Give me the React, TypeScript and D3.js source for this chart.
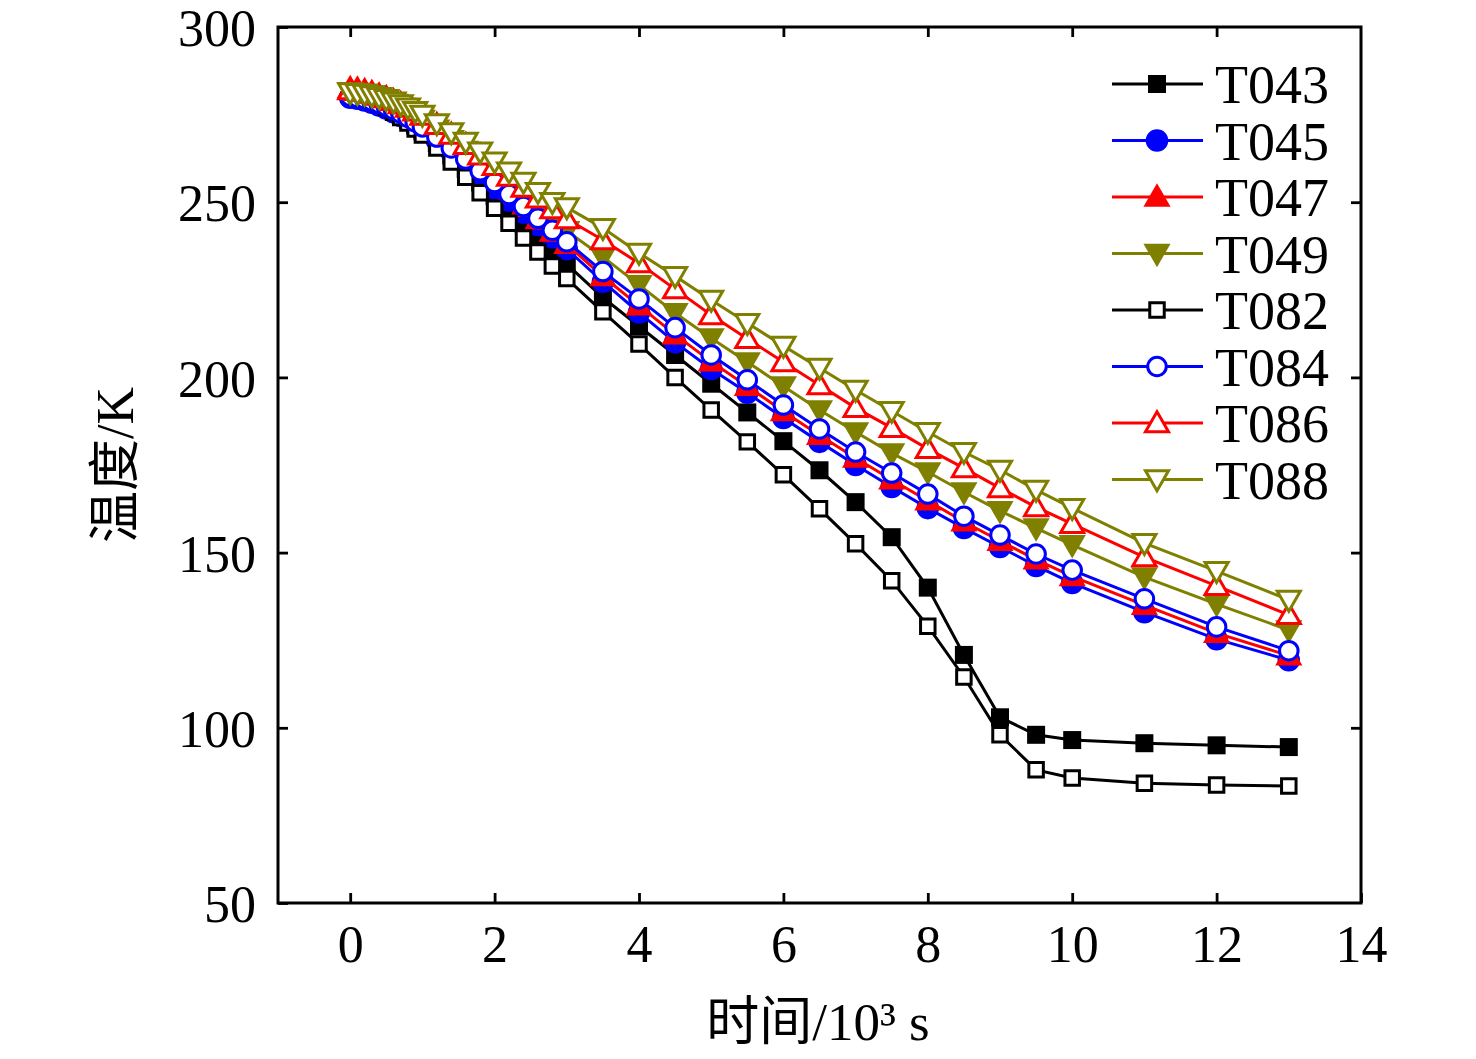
import { useEffect, useRef } from "react";
import * as d3 from "d3";

// time in 10^3 s
const times = [
	0, 0.1, 0.2, 0.3, 0.4, 0.5, 0.6, 0.7, 0.8, 0.9, 1.0, 1.2, 1.4, 1.6, 1.8, 2.0, 2.2, 2.4, 2.6, 2.8,
	3.0, 3.5, 4, 4.5, 5, 5.5, 6, 6.5, 7, 7.5, 8, 8.5, 9, 9.5, 10, 11, 12, 13,
];

const t043 = [
	281.2, 280.8, 280.3, 279.6, 278.7, 277.6, 276.4, 275.0, 273.5, 271.9, 270.3, 266.9, 263.3, 259.5,
	255.6, 251.7, 247.8, 243.9, 240.0, 236.1, 232.3, 222.8, 214.6, 206.4, 198.2, 190.0, 181.8, 173.5,
	164.4, 154.4, 140.0, 120.8, 103.0, 98.0, 96.5, 95.6, 95.0, 94.5,
];
const t045 = [
	279.8, 279.5, 279.0, 278.4, 277.6, 276.7, 275.7, 274.6, 273.4, 272.0, 270.6, 267.6, 264.4, 261.0,
	257.5, 254.0, 250.5, 247.0, 243.5, 240.0, 236.6, 227.3, 218.5, 210.0, 202.4, 195.6, 188.4, 181.6,
	175.0, 168.7, 162.7, 157.0, 151.6, 146.2, 141.3, 133.0, 125.3, 119.3,
];
const t047 = [
	282.5, 282.3, 281.9, 281.3, 280.5, 279.6, 278.5, 277.3, 276.0, 274.6, 273.1, 269.9, 266.5, 263.0,
	259.4, 255.8, 252.2, 248.6, 245.0, 241.5, 238.0, 228.8, 220.5, 212.2, 204.5, 197.5, 190.3, 183.5,
	177.0, 170.8, 164.8, 158.8, 153.3, 148.0, 143.2, 135.0, 127.0, 120.6,
];
const t049 = [
	281.5, 281.3, 281.0, 280.5, 279.9, 279.1, 278.2, 277.2, 276.1, 274.9, 273.6, 270.8, 267.8, 264.7,
	261.5, 258.3, 255.0, 251.7, 248.4, 245.1, 241.8, 234.4, 226.4, 218.4, 211.2, 204.4, 197.5, 190.7,
	184.4, 178.4, 173.0, 167.3, 161.9, 157.0, 152.2, 143.0, 135.3, 127.9,
];
const t082 = [
	281.0, 280.6, 280.0, 279.2, 278.2, 277.0, 275.7, 274.2, 272.6, 270.9, 269.2, 265.5, 261.5, 257.1,
	252.7, 248.3, 244.0, 239.8, 235.8, 231.8, 228.2, 218.7, 209.5, 200.0, 190.7, 181.6, 172.2, 162.5,
	152.5, 142.0, 129.0, 114.5, 98.0, 88.0, 85.7, 84.2, 83.7, 83.4,
];
const t084 = [
	280.2, 279.9, 279.5, 278.9, 278.2, 277.4, 276.4, 275.4, 274.2, 272.9, 271.5, 268.6, 265.5, 262.3,
	259.0, 255.6, 252.2, 248.8, 245.4, 242.0, 238.7, 230.2, 222.4, 214.2, 206.4, 199.3, 192.1, 185.3,
	178.7, 172.7, 166.7, 160.4, 155.0, 149.6, 145.0, 136.8, 128.8, 122.0,
];
const t086 = [
	282.0, 281.8, 281.5, 281.0, 280.4, 279.7, 278.9, 278.0, 277.0, 275.9, 274.7, 272.1, 269.3, 266.4,
	263.4, 260.4, 257.3, 254.2, 251.1, 248.0, 245.2, 239.2, 232.6, 225.2, 217.8, 211.0, 204.4, 197.8,
	191.3, 185.6, 179.6, 174.1, 168.4, 163.0, 158.2, 148.7, 140.5, 132.2,
];
const t088 = [
	281.3, 281.1, 280.9, 280.5, 280.0, 279.4, 278.7, 277.9, 277.0, 276.0, 274.9, 272.5, 269.9, 267.2,
	264.4, 261.6, 258.7, 255.8, 252.9, 250.0, 248.5, 242.6, 235.5, 228.9, 222.1, 215.5, 209.0, 202.7,
	196.4, 190.4, 184.4, 178.7, 173.6, 167.9, 162.7, 152.7, 144.7, 136.5,
];

const xTicks = [0, 2, 4, 6, 8, 10, 12, 14];
const yTicks = [50, 100, 150, 200, 250, 300];

type Marker = "square" | "circle" | "up" | "down";

interface Series {
	name: string;
	values: number[];
	color: string;
	marker: Marker;
	filled: boolean;
}

const series: Series[] = [
	{ name: "T043", values: t043, color: "#000000", marker: "square", filled: true },
	{ name: "T045", values: t045, color: "#0000ff", marker: "circle", filled: true },
	{ name: "T047", values: t047, color: "#ff0000", marker: "up", filled: true },
	{ name: "T049", values: t049, color: "#808000", marker: "down", filled: true },
	{ name: "T082", values: t082, color: "#000000", marker: "square", filled: false },
	{ name: "T084", values: t084, color: "#0000ff", marker: "circle", filled: false },
	{ name: "T086", values: t086, color: "#ff0000", marker: "up", filled: false },
	{ name: "T088", values: t088, color: "#808000", marker: "down", filled: false },
];

const serif = "'Liberation Serif', 'Times New Roman', serif";
const cjk = "'Liberation Serif', 'Noto Sans CJK SC', serif";

const markerPath = (marker: Marker, filled: boolean) => {
	if (marker === "square") {
		return d3.symbol(d3.symbolSquare, filled ? 324 : 210)() ?? "";
	}
	if (marker === "circle") {
		return d3.symbol(d3.symbolCircle, filled ? 400 : 270)() ?? "";
	}
	return d3.symbol(d3.symbolTriangle, filled ? 320 : 230)() ?? "";
};

export default function App() {
	const containerRef = useRef<HTMLDivElement>(null);

	useEffect(() => {
		if (!containerRef.current) {
			return;
		}

		const width = 1476;
		const height = 1059;
		const plot = { left: 278, right: 1361, top: 27, bottom: 903 };

		const svg = d3
			.select(containerRef.current)
			.append("svg")
			.attr("width", width)
			.attr("height", height)
			.style("display", "block")
			.style("background", "#ffffff");

		const x = d3.scaleLinear().domain([-1, 14]).range([plot.left, plot.right]);
		const y = d3.scaleLinear().domain([50, 300]).range([plot.bottom, plot.top]);

		const styleAxis = (g: d3.Selection<SVGGElement, unknown, null, undefined>) => {
			g.select(".domain").remove();
			g.selectAll("line").attr("stroke", "#000").attr("stroke-width", 2.8);
		};

		// bottom axis with labels
		svg
			.append("g")
			.attr("transform", `translate(0,${plot.bottom})`)
			.call(d3.axisBottom(x).tickValues(xTicks).tickSize(-10).tickPadding(22))
			.call(styleAxis)
			.selectAll("text")
			.attr("fill", "#000")
			.attr("font-family", serif)
			.attr("font-size", 52)
			.attr("dy", "0.71em");

		svg
			.append("g")
			.attr("transform", `translate(0,${plot.top})`)
			.call(d3.axisTop(x).tickValues(xTicks.filter((t) => t < 14)).tickSize(-10).tickFormat(() => ""))
			.call(styleAxis);

		svg
			.append("g")
			.attr("transform", `translate(${plot.left},0)`)
			.call(d3.axisLeft(y).tickValues(yTicks).tickSize(-10).tickPadding(22))
			.call(styleAxis)
			.selectAll("text")
			.attr("fill", "#000")
			.attr("font-family", serif)
			.attr("font-size", 52)
			.attr("dy", "0.36em");

		svg
			.append("g")
			.attr("transform", `translate(${plot.right},0)`)
			.call(d3.axisRight(y).tickValues(yTicks.filter((t) => t > 50 && t < 300)).tickSize(-10).tickFormat(() => ""))
			.call(styleAxis);

		svg
			.append("rect")
			.attr("x", plot.left)
			.attr("y", plot.top)
			.attr("width", plot.right - plot.left)
			.attr("height", plot.bottom - plot.top)
			.attr("fill", "none")
			.attr("stroke", "#000")
			.attr("stroke-width", 3);

		const line = d3
			.line<number>()
			.x((_, i) => x(times[i]))
			.y((v) => y(v));

		const drawMarker = (
			g: d3.Selection<SVGGElement, unknown, null, undefined>,
			s: Series,
			cx: number,
			cy: number
		) => {
			const rotate = s.marker === "down" ? " rotate(180)" : "";
			const shiftY = s.marker === "down" ? -2 : s.marker === "up" ? 2 : 0;
			g.append("path")
				.attr("d", markerPath(s.marker, s.filled))
				.attr("transform", `translate(${cx},${cy + shiftY})${rotate}`)
				.attr("fill", s.filled ? s.color : "#ffffff")
				.attr("stroke", s.color)
				.attr("stroke-width", s.filled ? 0 : 3);
		};

		series.forEach((s) => {
			const g = svg.append("g");
			g.append("path")
				.attr("d", line(s.values) ?? "")
				.attr("fill", "none")
				.attr("stroke", s.color)
				.attr("stroke-width", 3);
			s.values.forEach((v, i) => drawMarker(g, s, x(times[i]), y(v)));
		});

		// legend
		const legend = svg.append("g").attr("transform", "translate(1112,84)");
		series.forEach((s, i) => {
			const row = legend.append("g").attr("transform", `translate(0,${i * 56.5})`);
			row.append("line")
				.attr("x1", 0)
				.attr("x2", 91)
				.attr("stroke", s.color)
				.attr("stroke-width", 3);
			drawMarker(row, s, 45, 0);
			row.append("text")
				.attr("x", 103)
				.attr("y", 19)
				.attr("font-family", serif)
				.attr("font-size", 54)
				.attr("fill", "#000")
				.text(s.name);
		});

		svg
			.append("text")
			.attr("transform", "translate(133,465) rotate(-90)")
			.attr("text-anchor", "middle")
			.attr("font-family", cjk)
			.attr("font-size", 52)
			.attr("fill", "#000")
			.text("温度/K");

		svg
			.append("text")
			.attr("x", 818)
			.attr("y", 1040)
			.attr("text-anchor", "middle")
			.attr("font-family", cjk)
			.attr("font-size", 53)
			.attr("fill", "#000")
			.text("时间/10³ s");

		return () => {
			svg.remove();
		};
	}, []);

	return <div ref={containerRef} style={{ position: "absolute", left: 0, top: 0 }} />;
}
